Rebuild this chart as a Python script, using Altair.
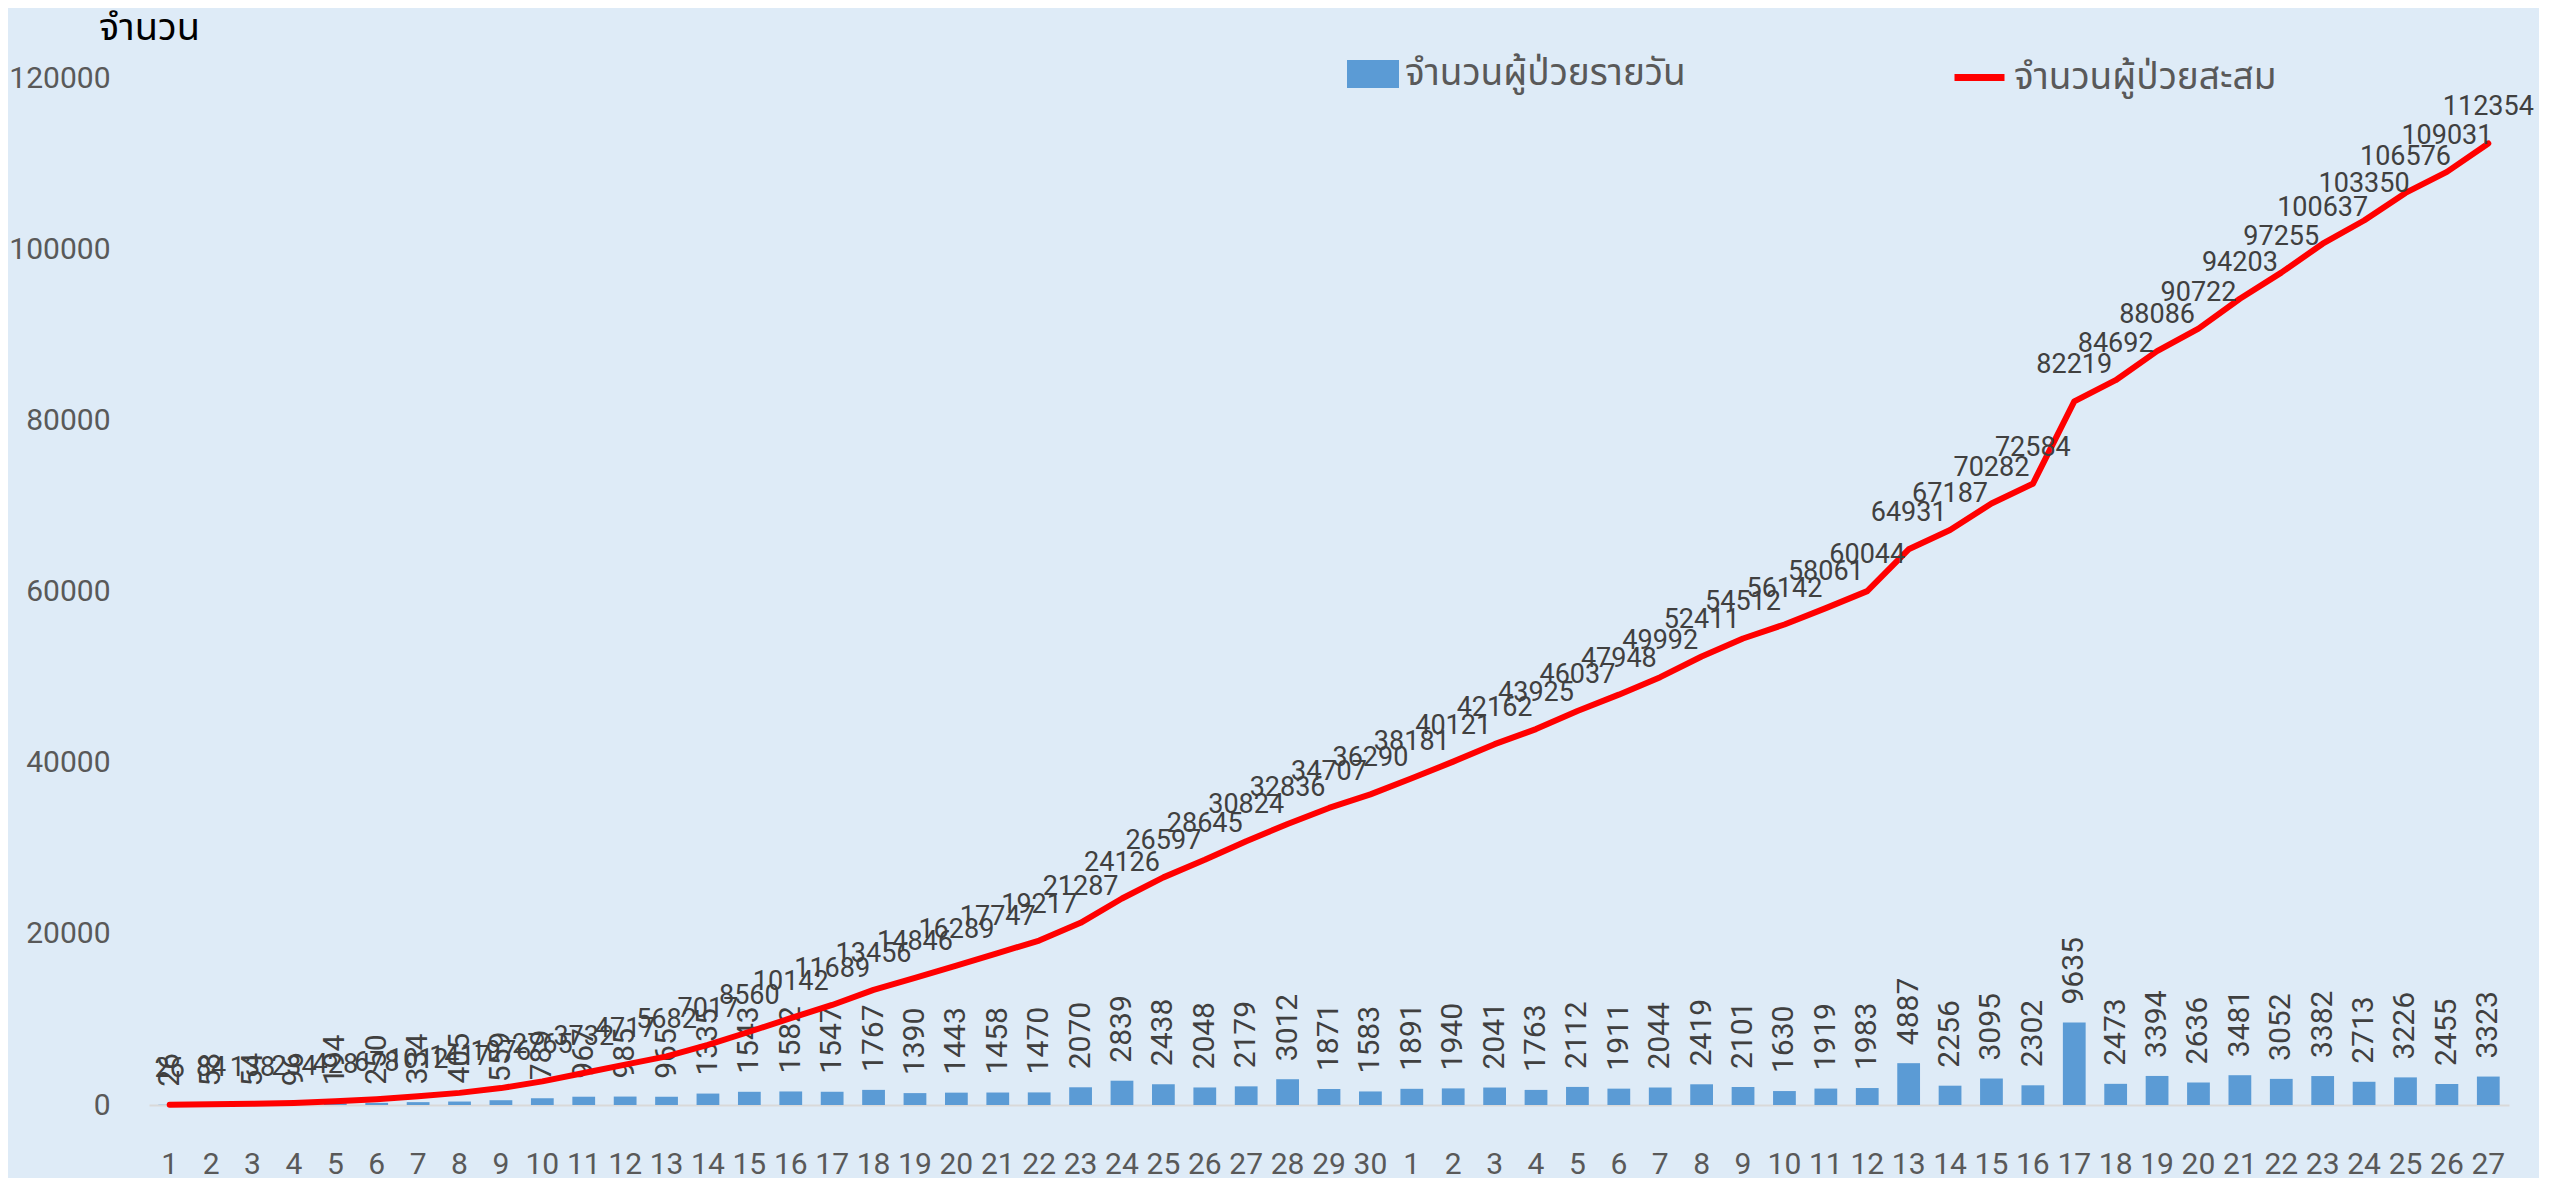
import altair as alt
import pandas as pd

# ---- data ----
months = [4] * 30 + [5] * 27
days = list(range(1, 31)) + list(range(1, 28))
daily = [26, 58, 54, 96, 194, 250, 334, 405, 559, 789,
         967, 985, 965, 1335, 1543, 1582, 1547, 1767, 1390, 1443,
         1458, 1470, 2070, 2839, 2438, 2048, 2179, 3012, 1871, 1583,
         1891, 1940, 2041, 1763, 2112, 1911, 2044, 2419, 2101, 1630,
         1919, 1983, 4887, 2256, 3095, 2302, 9635, 2473, 3394, 2636,
         3481, 3052, 3382, 2713, 3226, 2455, 3323]
cumulative = [26, 84, 138, 234, 428, 678, 1012, 1417, 1976, 2765,
              3732, 4717, 5682, 7017, 8560, 10142, 11689, 13456, 14846, 16289,
              17747, 19217, 21287, 24126, 26597, 28645, 30824, 32836, 34707, 36290,
              38181, 40121, 42162, 43925, 46037, 47948, 49992, 52411, 54512, 56142,
              58061, 60044, 64931, 67187, 70282, 72584, 82219, 84692, 88086, 90722,
              94203, 97255, 100637, 103350, 106576, 109031, 112354]
series_names = ["จำนวนผู้ป่วยรายวัน", "จำนวนผู้ป่วยสะสม"]
y_title = "จำนวน"
y_ticks = [0, 20000, 40000, 60000, 80000, 100000, 120000]

df = pd.DataFrame({
    "key": [f"{m}-{d}" for m, d in zip(months, days)],
    "daily": daily,
    "cumulative": cumulative,
    "s_bar": [series_names[0]] * len(daily),
    "s_line": [series_names[1]] * len(daily),
})

NUM_FONT = "Roboto"
THAI_FONT = "Noto Sans Thai, Noto Sans, DejaVu Sans, sans-serif"
LABEL_GRAY = "#595959"
DATA_GRAY = "#404040"

x_enc = alt.X(
    "key:O", sort=None,
    scale=alt.Scale(paddingInner=0.45, paddingOuter=0.225),
    axis=alt.Axis(title=None, labelExpr="split(datum.value, '-')[1]", labelAngle=0,
                  ticks=False, domainColor="#D9D9D9", domainWidth=2,
                  labelFont=NUM_FONT, labelFontSize=30, labelColor=LABEL_GRAY,
                  labelPadding=44),
)

y_axis = alt.Axis(title=y_title, values=y_ticks, format="d", grid=False, domain=False,
                  ticks=False, labelFont=NUM_FONT, labelFontSize=30, labelColor=LABEL_GRAY,
                  labelPadding=39, titleAngle=0, titleX=0, titleY=-50, titleAlign="center",
                  titleBaseline="middle", titleFont=THAI_FONT, titleFontSize=38,
                  titleFontWeight="normal", titleColor="#000000")

base = alt.Chart(df).encode(x=x_enc)

bars = base.mark_bar().encode(
    y=alt.Y("daily:Q", scale=alt.Scale(domain=[0, 120000]), axis=y_axis),
    fill=alt.Fill("s_bar:N", scale=alt.Scale(range=["#5B9BD5"]),
                  legend=alt.Legend(title=None, orient="none", legendX=1198, legendY=-30,
                                    symbolType="M-1,-0.54H1V0.54H-1Z", symbolSize=2704,
                                    symbolStrokeWidth=0, labelFont=THAI_FONT,
                                    labelFontSize=37, labelColor=LABEL_GRAY, labelOffset=6,
                                    padding=0, labelLimit=600)),
)

bar_labels = base.mark_text(angle=270, align="left", baseline="middle", dx=18,
                            font=NUM_FONT, fontSize=30, color=DATA_GRAY).encode(
    y=alt.Y("daily:Q"),
    text=alt.Text("daily:Q", format="d"),
)

line = base.mark_line(strokeWidth=6, strokeJoin="round", strokeCap="round").encode(
    y=alt.Y("cumulative:Q"),
    stroke=alt.Stroke("s_line:N", scale=alt.Scale(range=["#FF0000"]),
                      legend=alt.Legend(title=None, orient="none", legendX=1802, legendY=-29,
                                        symbolType="stroke", symbolSize=2500,
                                        symbolStrokeWidth=7, labelFont=THAI_FONT,
                                        labelFontSize=37, labelColor=LABEL_GRAY,
                                        labelOffset=6, padding=0, labelLimit=600)),
)

line_labels = base.mark_text(align="center", baseline="middle", dy=-36,
                             font=NUM_FONT, fontSize=27, color=DATA_GRAY).encode(
    y=alt.Y("cumulative:Q"),
    text=alt.Text("cumulative:Q", format="d"),
)

chart = alt.layer(bars, bar_labels, line, line_labels).properties(
    width=2360, height=1027, background="#DEEBF7",
    padding={"left": 0, "top": 1, "right": 5, "bottom": 0},
).configure_view(stroke=None)

chart.save("out.html", embed_options={"renderer": "svg", "actions": False})
